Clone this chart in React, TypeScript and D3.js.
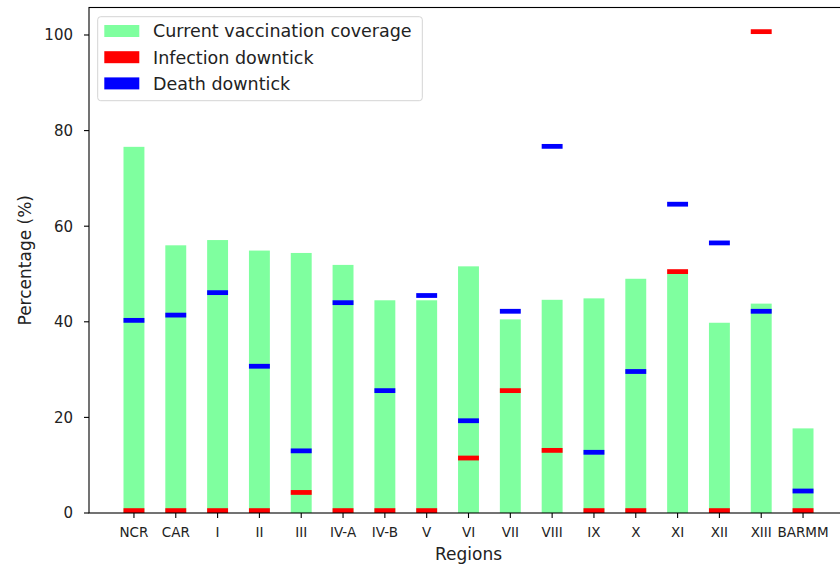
import React from 'react';
import * as d3 from 'd3';

// regions on the x axis
const regions = ['NCR', 'CAR', 'I', 'II', 'III', 'IV-A', 'IV-B', 'V', 'VI', 'VII', 'VIII', 'IX', 'X', 'XI', 'XII', 'XIII', 'BARMM'];

// current vaccination coverage (%)
const coverage = [76.6, 56.0, 57.1, 54.9, 54.4, 51.9, 44.5, 44.5, 51.6, 40.5, 44.6, 44.9, 49.0, 50.0, 39.8, 43.8, 17.7];

// infection downtick (%), drawn as a thin marker
const infection = [0, 0, 0, 0, 3.8, 0, 0, 0, 11.0, 25.1, 12.6, 0, 0, 50.0, 0, 100.2, 0];

// death downtick (%), drawn as a thin marker
const death = [39.8, 40.9, 45.6, 30.2, 12.5, 43.5, 25.1, 45.0, 18.8, 41.7, 76.2, 12.2, 29.1, 64.1, 56.0, 41.7, 4.1];

const yTicks = [0, 20, 40, 60, 80, 100];

const legendItems = [
  { label: 'Current vaccination coverage', color: '#7fff9f' },
  { label: 'Infection downtick', color: '#ff0000' },
  { label: 'Death downtick', color: '#0000ff' },
];

const W = 840, H = 564;
const left = 89, right = 848, top = 7.5, bottom = 513;
const barW = 0.5;
const markH = 1;
const font = 'DejaVu Sans, sans-serif';

const App = () => {
  const x = d3.scaleLinear().domain([-1.075, regions.length - 1 + 1.075]).range([left, right]);
  const y = d3.scaleLinear().domain([0, 105.75]).range([bottom, top]);
  const bw = x(barW) - x(0);

  return (
    <svg width={W} height={H} style={{ position: 'absolute', left: 0, top: 0, background: '#fff' }} fontFamily={font}>
      {/* coverage bars */}
      {coverage.map((v, i) => (
        <rect key={'c' + i} x={x(i) - bw / 2} y={y(v)} width={bw} height={y(0) - y(v)} fill="#7fff9f" />
      ))}
      {/* infection markers */}
      {infection.map((v, i) => (
        <rect key={'r' + i} x={x(i) - bw / 2} y={y(v + markH)} width={bw} height={y(v) - y(v + markH)} fill="#ff0000" />
      ))}
      {/* death markers */}
      {death.map((v, i) => (
        <rect key={'b' + i} x={x(i) - bw / 2} y={y(v + markH)} width={bw} height={y(v) - y(v + markH)} fill="#0000ff" />
      ))}

      {/* spines */}
      <rect x={left} y={top} width={right - left} height={bottom - top} fill="none" stroke="#000" strokeWidth={1.1} />

      {/* y axis */}
      {yTicks.map(t => (
        <g key={'y' + t}>
          <line x1={left - 5} x2={left} y1={y(t)} y2={y(t)} stroke="#000" strokeWidth={1.1} />
          <text x={left - 16} y={y(t)} dy="0.36em" textAnchor="end" fontSize={15} fill="#222">{t}</text>
        </g>
      ))}
      {/* x axis */}
      {regions.map((r, i) => (
        <g key={'x' + r}>
          <line x1={x(i)} x2={x(i)} y1={bottom} y2={bottom + 5} stroke="#000" strokeWidth={1.1} />
          <text x={x(i)} y={537} textAnchor="middle" fontSize={13.5} fill="#222">{r}</text>
        </g>
      ))}

      <text x={(left + right) / 2} y={560} textAnchor="middle" fontSize={17} fill="#222">Regions</text>
      <text transform={`translate(31,${(top + bottom) / 2}) rotate(-90)`} textAnchor="middle" fontSize={17} fill="#222">Percentage (%)</text>

      {/* legend */}
      <rect x={97.7} y={16.7} width={324.6} height={84} rx={3} fill="#fff" fillOpacity={0.8} stroke="#d4d4d4" />
      {legendItems.map((d, i) => (
        <g key={d.label}>
          <rect x={104.3} y={25 + i * 26.2} width={35} height={12} fill={d.color} />
          <text x={153} y={37.3 + i * 26.2} fontSize={17.5} fill="#222">{d.label}</text>
        </g>
      ))}
    </svg>
  );
};

export default App;
